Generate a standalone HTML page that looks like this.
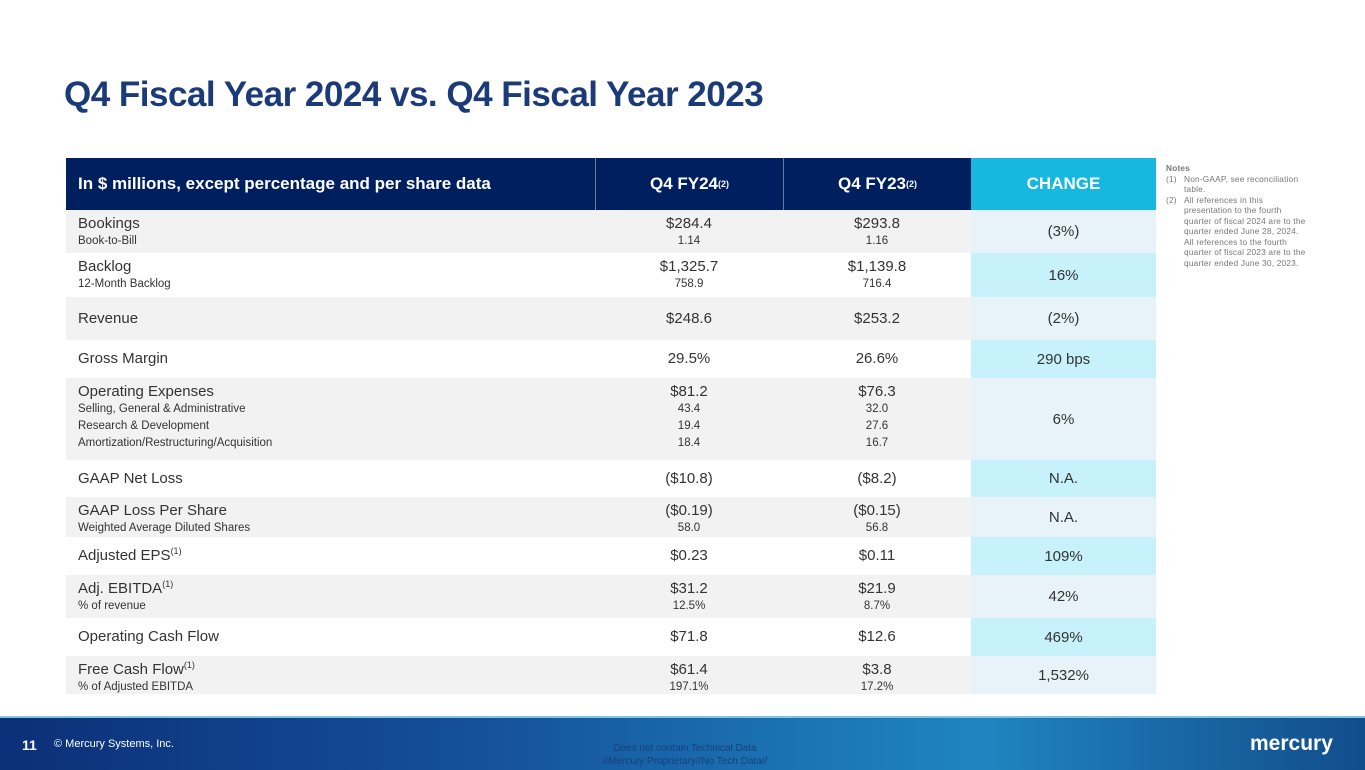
<!DOCTYPE html>
<html><head><meta charset="utf-8">
<style>
body{margin:0;width:1365px;height:768px;overflow:hidden;background:#fff;font-family:"Liberation Sans",sans-serif;position:relative}
.abs{position:absolute}
#title{left:64px;top:75px;font-size:35px;font-weight:bold;color:#1b3a78;letter-spacing:-0.5px}
.row{position:absolute;left:66px;width:1090px}
.cell{position:absolute;top:0;height:100%;box-sizing:border-box}
.c0{left:0;width:529px;padding-left:12px;color:#333}
.c1{left:529px;width:188px;text-align:center;color:#333}
.c2{left:717px;width:188px;text-align:center;color:#333}
.c3{left:905px;width:185px;text-align:center;color:#333;display:flex;align-items:center;justify-content:center;font-size:15px}
.m{font-size:15px;line-height:18px}
.s{font-size:11.5px;line-height:17px}
sup{font-size:9px;line-height:0}
.hdr .cell{display:flex;align-items:center;color:#fff;font-weight:bold;font-size:17px}
.hdr .c1,.hdr .c2{justify-content:center;border-left:1px solid #6c7aa0}
#notes{left:1166px;top:163px;font-size:8.3px;color:#777;line-height:10.5px;width:160px;letter-spacing:0.2px}
#footer{left:0;top:716px;width:1365px;height:52px;background:linear-gradient(90deg,#0b2f78 0%,#15509a 35%,#1a6fb0 55%,#1f85c0 72%,#1a6aa8 85%,#124d8c 100%);border-top:2px solid #7fc3e8}
</style></head><body>
<div id="title" class="abs">Q4 Fiscal Year 2024 vs. Q4 Fiscal Year 2023</div>

<div class="row hdr" style="top:158px;height:52px;background:#001f5f">
<div class="cell c0" style="font-size:17px">In $ millions, except percentage and per share data</div>
<div class="cell c1">Q4 FY24<sup>(2)</sup></div>
<div class="cell c2">Q4 FY23<sup>(2)</sup></div>
<div class="cell c3" style="background:#16b8df;font-size:17px">CHANGE</div>
</div>

<div id="rows"></div>

<div id="notes" class="abs">
<div style="font-weight:bold">Notes</div>
<div style="display:flex"><span style="width:18px">(1)</span><span style="width:120px">Non-GAAP, see reconciliation table.</span></div>
<div style="display:flex"><span style="width:18px">(2)</span><span style="width:125px">All references in this presentation to the fourth quarter of fiscal 2024 are to the quarter ended June 28, 2024. All references to the fourth quarter of fiscal 2023 are to the quarter ended June 30, 2023.</span></div>
</div>

<div id="footer" class="abs">
<div class="abs" style="left:22px;top:19px;color:#fff;font-weight:bold;font-size:14px">11</div>
<div class="abs" style="left:54px;top:20px;color:#fff;font-size:11px">© Mercury Systems, Inc.</div>
<div class="abs" style="left:580px;top:24px;width:210px;text-align:center;color:#1a3f7a;font-size:10px;line-height:13px">Does not contain Technical Data<br>//Mercury Proprietary//No Tech Data//</div>
<div class="abs" style="left:1250px;top:14px;color:#fff;font-weight:bold;font-size:21px">mercury</div>
</div>

<script>
const labels=["Bookings","Backlog","Revenue","Gross Margin","Operating Expenses","GAAP Net Loss","GAAP Loss Per Share","Adjusted EPS<sup>(1)</sup>","Adj. EBITDA<sup>(1)</sup>","Operating Cash Flow","Free Cash Flow<sup>(1)</sup>"];
const subLabels=[["Book-to-Bill"],["12-Month Backlog"],[],[],["Selling, General &amp; Administrative","Research &amp; Development","Amortization/Restructuring/Acquisition"],[],["Weighted Average Diluted Shares"],[],["% of revenue"],[],["% of Adjusted EBITDA"]];
const fy24=["$284.4","$1,325.7","$248.6","29.5%","$81.2","($10.8)","($0.19)","$0.23","$31.2","$71.8","$61.4"];
const fy24Sub=[["1.14"],["758.9"],[],[],["43.4","19.4","18.4"],[],["58.0"],[],["12.5%"],[],["197.1%"]];
const fy23=["$293.8","$1,139.8","$253.2","26.6%","$76.3","($8.2)","($0.15)","$0.11","$21.9","$12.6","$3.8"];
const fy23Sub=[["1.16"],["716.4"],[],[],["32.0","27.6","16.7"],[],["56.8"],[],["8.7%"],[],["17.2%"]];
const changes=["(3%)","16%","(2%)","290 bps","6%","N.A.","N.A.","109%","42%","469%","1,532%"];
const rowTops=[210,253,297,340,378,460,497,537,575,618,656,694];
const host=document.getElementById('rows');
function col(cls,main,subs,h){
  const d=document.createElement('div');d.className='cell '+cls;
  const pad=subs.length? 5 : (h-18)/2;
  d.style.paddingTop=pad+'px';
  d.innerHTML='<div class="m">'+main+'</div>'+subs.map(s=>'<div class="s">'+s+'</div>').join('');
  return d;
}
labels.forEach((l,i)=>{
  const h=rowTops[i+1]-rowTops[i];
  const r=document.createElement('div');
  r.className='row';
  r.style.top=rowTops[i]+'px';r.style.height=h+'px';
  r.style.background=i%2===0?'#f2f2f2':'#ffffff';
  
  
  const c0=col('c0',l,subLabels[i],h);
  
  
  const c1=col('c1',fy24[i],fy24Sub[i],h);
  
  
  const c2=col('c2',fy23[i],fy23Sub[i],h);
  
  
  const c3=document.createElement('div');c3.className='cell c3';
  c3.style.background=i%2===0?'#e7f3f9':'#c7f1fb';
  c3.textContent=changes[i];
  
  
  r.append(c0,c1,c2,c3);host.appendChild(r);
});
</script>
</body></html>
